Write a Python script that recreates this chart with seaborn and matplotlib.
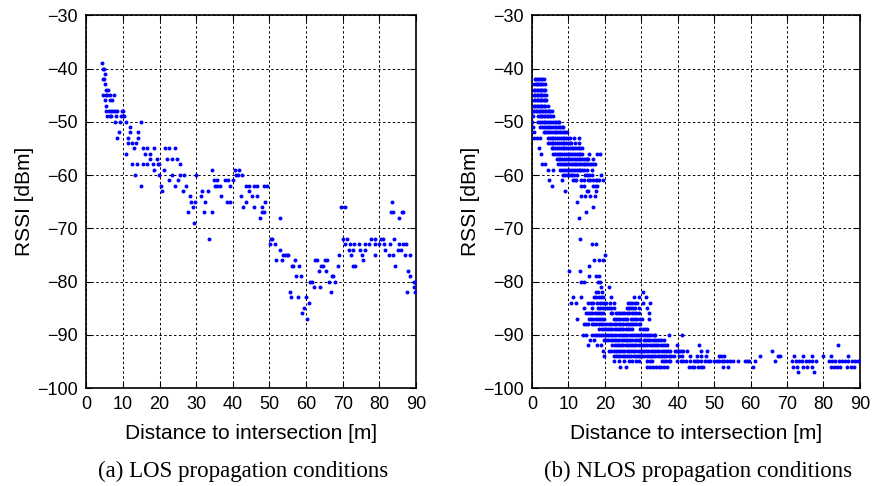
import pandas as pd
import matplotlib
matplotlib.use("Agg")
import matplotlib.pyplot as plt
import seaborn as sns

# RSSI levels (dBm) and the distances (m) at which each level was seen
los_levels = [-39, -40, -41, -42, -43, -44, -45, -46, -47, -48, -49, -50, -51, -52, -53,
              -54, -55, -56, -57, -58, -59, -60, -61, -62, -63, -64, -65, -66, -67, -68,
              -69, -72, -73, -74, -75, -76, -77, -78, -79, -80, -81, -82, -83, -84, -85,
              -86, -87]
los_dist = [
    [4.4], [4.5, 4.8], [5.0], [4.5, 4.8], [5.0], [5.3, 6.0],
    [4.5, 5.3, 5.7, 6.4, 7.6], [5.0, 6.4, 7.1], [5.3],
    [5.5, 6.2, 6.8, 7.3, 7.8, 8.4, 9.8, 10.0],
    [5.7, 6.4, 6.8, 8.0, 9.4, 10.0, 10.4],
    [7.8, 9.1, 10.9, 14.8], [11.9], [8.9, 11.9, 14.2], [8.5, 11.4, 14.2],
    [11.4, 12.5, 13.5],
    [13.0, 15.4, 16.6, 18.6, 21.5, 22.7, 24.2],
    [10.9, 16.0, 17.3],
    [17.3, 19.2, 22.0, 23.4, 24.7],
    [12.5, 13.7, 15.5, 16.6, 18.1, 19.5, 19.8, 25.5],
    [18.5, 21.3, 34.4, 40.6, 41.7],
    [13.2, 19.8, 23.5, 25.7, 26.8, 30.0, 40.9, 41.4, 42.5],
    [22.5, 25.0, 34.8, 35.8, 37.8, 38.7, 40.1],
    [14.8, 20.5, 24.1, 27.1, 35.0, 35.6, 36.4, 39.3, 43.5, 44.4, 45.8, 46.6, 48.6, 49.4],
    [20.7, 26.5, 31.5, 33.1, 44.4],
    [28.4, 31.2, 36.9, 42.2, 45.1, 46.5],
    [28.6, 29.7, 32.5, 38.5, 39.3, 43.5, 48.7, 83.5],
    [29.1, 42.9, 45.8, 48.0, 69.6, 70.5],
    [27.7, 32.0, 34.3, 48.0, 48.4, 83.3, 83.7, 86.1, 86.5],
    [47.3, 52.8, 85.5],
    [29.4],
    [33.6, 50.3, 50.8, 70.0, 71.3, 77.6, 78.8, 80.5, 81.1, 83.9],
    [50.1, 51.6, 70.6, 72.0, 73.1, 74.4, 76.2, 77.2, 78.9, 80.0, 81.4, 82.8, 85.3, 86.4, 87.2],
    [53.0, 71.6, 72.8, 74.8, 76.1, 81.6, 85.2, 85.9],
    [53.7, 54.3, 54.8, 55.1, 69.0, 72.3, 75.2, 78.9, 82.6, 83.8, 87.1, 88.4],
    [51.9, 53.5, 57.1, 62.5, 62.9, 65.3, 65.6, 75.6],
    [56.2, 56.5, 58.1, 64.2, 64.6, 68.6, 72.8, 73.4, 84.4],
    [63.4, 65.5, 87.9],
    [57.2, 58.5, 67.0, 67.3, 88.4],
    [61.0, 61.5, 66.3, 67.9, 89.5, 89.8],
    [62.3, 63.8, 89.5],
    [55.5, 66.7, 87.6, 89.7],
    [56.0, 57.7, 60.1],
    [60.7], [59.3], [58.9], [60.3],
]

nlos_levels = [-42, -43, -44, -45, -46, -47, -48, -49, -50, -51, -52, -53, -54, -55, -56,
               -57, -58, -59, -60, -61, -62, -63, -64, -65, -66, -67, -68, -72, -73, -75,
               -76, -77, -78, -79, -80, -81, -82, -83, -84, -85, -86, -87, -88, -89, -90,
               -91, -92, -93, -94, -95, -96, -97]
nlos_dist = [
    [0.8, 1.2, 1.6, 2.0, 2.4, 2.8, 3.2],
    [0.6, 1.0, 1.4, 1.8, 2.2, 2.6, 3.0, 3.5],
    [0.5, 0.9, 1.3, 1.7, 2.1, 2.5, 2.9, 3.3, 3.6],
    [0.5, 0.9, 1.3, 1.7, 2.1, 2.5, 2.9, 3.3, 3.8],
    [0.5, 0.9, 1.3, 1.7, 2.1, 2.5, 2.9, 3.3, 3.7, 4.0],
    [0.5, 0.9, 1.3, 1.7, 2.1, 2.5, 2.9, 3.3, 3.7, 4.3],
    [0.3, 0.7, 1.1, 1.5, 1.9, 2.3, 2.7, 3.1, 3.5, 3.9, 4.3, 4.7, 5.1, 5.6],
    [0.3, 1.7, 2.1, 2.5, 2.9, 3.3, 3.7, 4.1, 4.5, 4.9, 5.3, 5.8],
    [0.1, 1.7, 2.2, 2.7, 3.2, 3.7, 4.2, 4.7, 5.2, 5.7, 6.2, 6.7, 7.1, 7.5],
    [0.3, 2.3, 2.8, 3.3, 3.8, 4.3, 4.8, 5.3, 5.8, 6.3, 6.8, 7.3, 7.7, 8.2, 8.6],
    [0.5, 3.2, 3.7, 4.2, 4.7, 5.2, 5.7, 6.2, 6.7, 7.2, 7.7, 8.2, 8.7, 9.1, 9.5],
    [0.7, 1.5, 2.3, 4.4, 4.9, 5.4, 5.9, 6.4, 6.9, 7.4, 7.9, 8.4, 8.9, 9.4, 9.9, 10.5,
     11.6, 12.9],
    [4.4, 4.9, 5.4, 5.9, 6.4, 6.9, 7.4, 7.9, 8.4, 8.9, 9.4, 9.9, 10.4, 10.8, 11.9, 13.0],
    [1.9, 5.4, 5.9, 6.4, 6.9, 7.4, 7.9, 8.4, 8.9, 9.4, 9.9, 10.4, 10.9, 11.4, 11.9, 12.4,
     12.9, 13.3, 13.7],
    [2.4, 5.8, 6.3, 6.8, 7.3, 7.8, 8.3, 8.8, 9.3, 9.8, 10.3, 10.8, 11.3, 11.8, 12.3, 12.8,
     13.3, 13.7, 15.6, 17.8, 18.6],
    [6.8, 7.3, 7.8, 8.3, 8.8, 9.3, 9.8, 10.3, 10.8, 11.3, 11.8, 12.3, 12.8, 13.3, 13.8,
     14.3, 14.8, 15.2, 15.5, 16.9],
    [2.9, 3.5, 7.2, 7.7, 8.2, 8.7, 9.2, 9.7, 10.2, 10.7, 11.2, 11.7, 12.2, 12.7, 13.2,
     13.7, 14.2, 14.7, 15.2, 15.7, 16.2, 16.8, 17.2],
    [4.4, 5.8, 7.8, 8.3, 8.8, 9.3, 9.8, 10.3, 10.8, 11.3, 11.8, 12.3, 12.8, 13.3, 13.8,
     14.3, 15.0, 16.6],
    [8.6, 9.1, 9.6, 10.1, 10.6, 11.1, 11.6, 12.3, 14.6, 15.2, 15.8, 16.4, 19.0],
    [4.7, 8.3, 11.2, 11.7, 12.1, 13.6, 14.2, 15.5, 16.0, 16.9, 17.5, 18.0, 18.5, 19.4],
    [5.6, 13.6, 14.2, 16.8, 17.3, 17.9],
    [9.1, 15.0, 15.5, 17.6],
    [13.6, 14.6, 15.9, 17.3],
    [12.3], [16.8], [14.8], [13.0], [13.2], [16.5, 17.5], [20.0],
    [17.1, 18.3, 19.5], [15.8], [10.3, 13.2], [15.6, 17.6, 18.5],
    [13.6, 14.2, 18.2, 18.6], [18.9, 21.2], [17.5, 18.2, 19.1, 30.5],
    [11.2, 13.6, 17.1, 17.7, 18.3, 18.9, 19.4, 21.8, 27.9, 29.5, 31.3],
    [10.7, 12.0, 15.5, 16.1, 16.8, 18.0, 18.6, 19.2, 19.8, 20.3, 21.4, 22.5, 26.4, 27.0,
     27.6, 28.3, 28.9, 30.5, 32.5],
    [14.4, 16.6, 18.2, 18.8, 19.4, 20.0, 20.6, 21.2, 21.8, 22.4, 26.0, 26.6, 27.2, 27.8,
     28.4, 29.4, 31.6],
    [14.8, 15.4, 16.0, 16.6, 17.2, 17.8, 18.4, 19.0, 19.6, 21.6, 22.1, 23.0, 23.6, 24.2,
     24.8, 25.4, 26.0, 26.6, 27.4, 28.0, 28.7, 29.4, 32.1],
    [12.5, 15.7, 16.3, 16.9, 17.5, 18.1, 18.7, 19.3, 19.8, 22.5, 23.1, 23.7, 24.3, 24.9,
     25.5, 26.2, 27.1, 27.7, 28.3, 28.9, 29.6, 30.3, 32.1],
    [14.2, 14.8, 15.3, 16.5, 17.1, 17.7, 18.3, 18.9, 19.5, 20.3, 21.2, 21.8, 22.4, 23.0,
     23.9, 24.5, 25.1, 25.7, 26.3, 26.9, 27.5, 28.1, 28.7, 29.3, 29.8],
    [18.5, 19.1, 19.7, 20.3, 20.9, 21.5, 22.1, 22.7, 23.3, 23.9, 24.5, 25.1, 25.7, 26.3,
     26.9, 27.5, 29.8, 30.4, 31.0, 31.6],
    [13.9, 14.8, 16.6, 17.2, 17.8, 18.4, 19.0, 19.6, 20.2, 20.8, 21.4, 22.0, 22.6, 23.2,
     23.8, 24.4, 25.0, 25.6, 26.2, 26.8, 27.4, 28.0, 28.6, 29.2, 29.8, 30.4, 31.0, 31.6,
     32.2, 32.8, 33.4, 33.9, 37.5, 41.2],
    [16.0, 17.1, 19.8, 20.4, 21.0, 21.6, 22.2, 22.8, 23.4, 24.0, 24.6, 25.2, 25.8, 26.4,
     27.0, 27.6, 28.2, 28.8, 29.4, 29.8, 30.7, 31.3, 31.9, 32.5, 33.1, 33.7, 34.3, 34.9,
     35.5, 36.2],
    [15.3, 18.0, 18.9, 22.1, 22.7, 23.3, 23.9, 24.5, 25.1, 25.7, 26.3, 26.9, 27.5, 28.1,
     28.7, 29.3, 29.9, 30.5, 31.1, 31.7, 32.3, 32.9, 33.5, 34.1, 34.7, 35.3, 35.9, 36.5,
     37.1, 39.8, 45.8, 84.0],
    [19.4, 21.2, 21.8, 22.4, 23.0, 23.6, 24.2, 24.8, 25.4, 26.0, 26.6, 27.2, 27.8, 28.4,
     29.0, 29.6, 30.2, 30.8, 31.4, 32.0, 32.6, 33.2, 33.8, 34.4, 35.0, 35.6, 36.2, 36.8,
     37.4, 38.0, 39.2, 39.8, 40.4, 41.0, 41.6, 42.5, 46.4, 48.0, 65.9],
    [19.8, 22.5, 23.1, 23.7, 24.3, 24.9, 25.5, 26.1, 26.7, 27.3, 27.9, 28.5, 29.1, 29.7,
     30.3, 30.9, 31.5, 32.1, 32.7, 33.3, 33.9, 34.5, 35.1, 35.7, 36.3, 36.9, 37.5, 38.1,
     38.9, 40.3, 41.2, 43.5, 45.3, 46.5, 47.7, 51.4, 51.8, 52.7, 62.7, 67.6, 68.2, 72.0,
     74.3, 77.0, 79.9, 82.0, 86.8],
    [22.4, 23.9, 25.3, 26.6, 27.5, 28.5, 29.4, 31.6, 32.3, 33.0, 35.7, 36.3, 36.9, 37.5,
     38.0, 39.8, 41.0, 41.6, 42.3, 43.5, 44.4, 45.0, 45.7, 46.5, 47.5, 48.4, 48.9, 50.0,
     50.7, 51.4, 52.1, 52.8, 53.6, 54.3, 55.2, 56.5, 58.4, 59.1, 59.7, 61.1, 66.7, 71.5,
     72.4, 73.3, 74.2, 75.1, 76.0, 76.9, 77.9, 81.5, 82.4, 83.3, 84.2, 85.1, 86.0, 86.9,
     87.8, 88.7, 89.5, 90.0],
    [24.2, 25.7, 31.6, 32.4, 33.2, 34.0, 34.8, 35.3, 36.2, 37.1, 43.0, 43.9, 44.6, 45.5,
     46.3, 47.0, 52.5, 53.8, 60.6, 71.8, 72.9, 74.5, 75.6, 77.0, 82.0, 82.9, 83.8, 84.7,
     86.5, 87.5, 88.4],
    [73.1, 77.3],
]

x_ticks = [0, 10, 20, 30, 40, 50, 60, 70, 80, 90]
y_ticks = [-100, -90, -80, -70, -60, -50, -40, -30]
captions = ["(a) LOS propagation conditions", "(b) NLOS propagation conditions"]


def to_frame(levels, dists):
    rows = [(d, lv) for lv, ds in zip(levels, dists) for d in ds]
    return pd.DataFrame(rows, columns=["dist", "rssi"])


sns.set_style("ticks")
plt.rcParams["font.family"] = ["Liberation Sans", "DejaVu Sans"]
plt.rcParams.update({"text.color": "black", "axes.labelcolor": "black",
                     "xtick.color": "black", "ytick.color": "black"})

fig = plt.figure(figsize=(8.72, 4.86), dpi=100)
panels = [
    (to_frame(los_levels, los_dist), [0.099, 0.2016, 0.378, 0.767], 0.279),
    (to_frame(nlos_levels, nlos_dist), [0.610, 0.2016, 0.376, 0.767], 0.800),
]

for (df, pos, cap_x), caption in zip(panels, captions):
    ax = fig.add_axes(pos)
    sns.scatterplot(data=df, x="dist", y="rssi", ax=ax, color="#0000ff",
                    s=8, linewidth=0, marker="o", zorder=3)
    ax.set_xlim(0, 90)
    ax.set_ylim(-100, -30)
    ax.set_xticks(x_ticks)
    ax.set_yticks(y_ticks)
    ax.grid(True, color="black", linestyle=(0, (2.5, 2.5)), linewidth=0.7)
    ax.set_axisbelow(True)
    ax.tick_params(direction="in", top=True, right=True, length=4, width=0.8,
                   labelsize=13, pad=6, colors="black")
    for sp in ax.spines.values():
        sp.set_visible(True)
        sp.set_linewidth(1.2)
        sp.set_color("black")
    ax.set_xlabel("Distance to intersection [m]", fontsize=15, labelpad=8, color="black")
    ax.set_ylabel("RSSI [dBm]", fontsize=15, labelpad=2, color="black")
    fig.text(cap_x, 0.03, caption, family=["Liberation Serif"], fontsize=16.5,
             ha="center", va="center", color="black")

plt.savefig("out.png", dpi=100)
